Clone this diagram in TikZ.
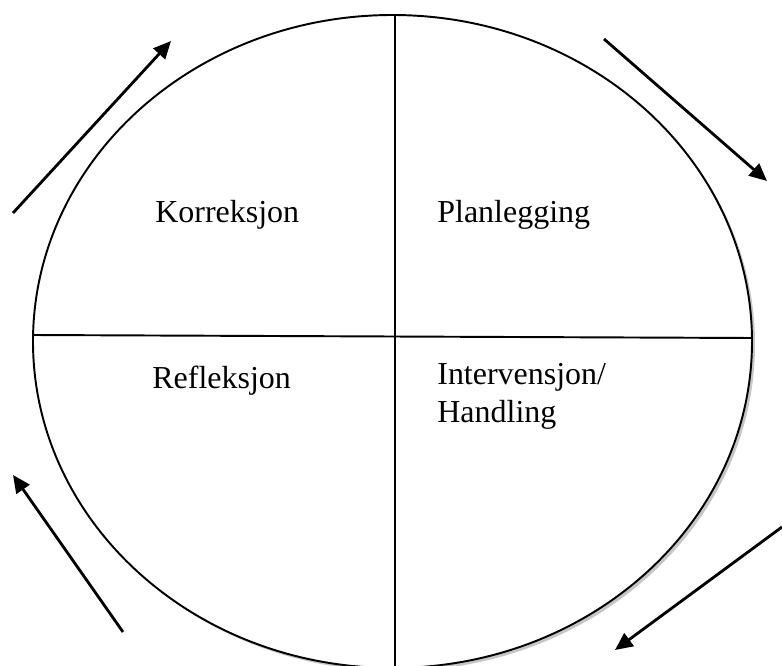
\documentclass[tikz,border=0pt]{standalone}
\usepackage{fontspec}
\setmainfont{Liberation Serif}
\usepackage{tikz}
\usetikzlibrary{arrows.meta,positioning,calc}

\tikzset{
  cyclearrow/.style={line width=1.6pt,-{Triangle[length=10pt,width=9pt]}},
  phase/.style={anchor=west,align=left,inner sep=0pt,font=\fontsize{18.2}{21.5}\selectfont},
  divider/.style={line width=1.1pt}
}

\begin{document}
\begin{tikzpicture}[x=0.02cm,y=-0.02cm]
\useasboundingbox (0,0) rectangle (782,666);

% Coordinates of the circle and the dividing lines
\coordinate (mid) at (392.5,341.5);
\coordinate (top) at (395,15);
\coordinate (bot) at (395,700);
\coordinate (lft) at (33,335);
\coordinate (rgt) at (752,338);

% Circle with shadow
\fill[gray!45] ($(mid)+(3,3)$) ellipse [x radius=359.5, y radius=326.5];
\draw[divider,fill=white] (mid) ellipse [x radius=359.5, y radius=326.5];

% Quarters
\draw[divider] (top) -- (bot);
\draw[divider] (lft) -- (rgt);

% Labels for the phases
\node[phase] (korr) at (155,215) {Korreksjon};
\node[phase] (plan) at (437,215) {Planlegging};
\node[phase] (refl) at (152,381) {Refleksjon};
\node[phase] (inter) at (437,396) {Intervensjon/\\Handling};

% Arrows around the circle
\coordinate (a1) at (13,213);
\coordinate (b1) at (171,41);
\coordinate (a2) at (604,39);
\coordinate (b2) at (767,181);
\coordinate (a3) at (782,527);
\coordinate (b3) at (615,650);
\coordinate (a4) at (123,632);
\coordinate (b4) at (13,475);

\foreach \s/\e in {a1/b1, a2/b2, a3/b3, a4/b4}{
    \draw[cyclearrow] (\s) -- (\e);
}

\end{tikzpicture}
\end{document}
